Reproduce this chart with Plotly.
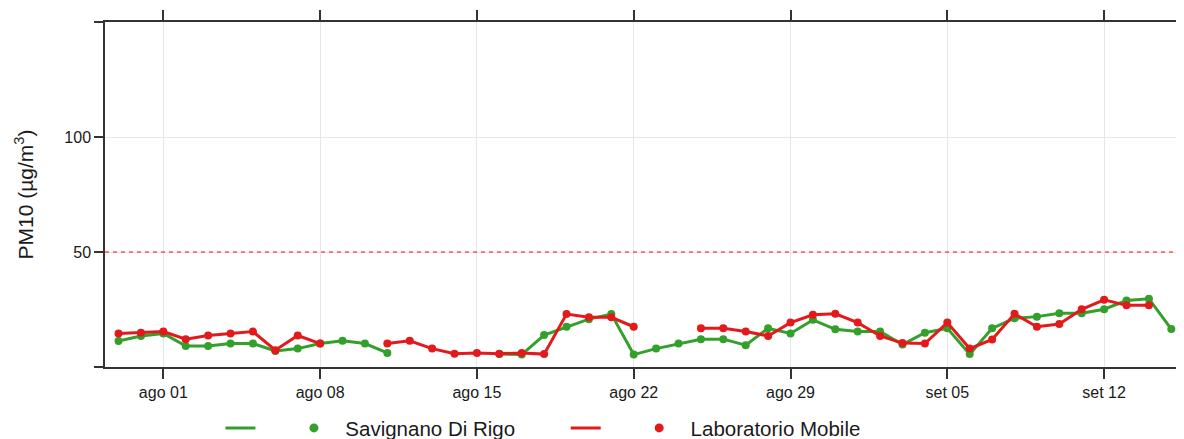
import pandas as pd
import plotly.graph_objects as go

# ---- data ----
dates = pd.date_range("2023-07-30", "2023-09-15", freq="D")

savignano = [11.3, 13.5, 14.6, 9.1, 9.1, 10.2, 10.2, 7.0, 8.0, 10.2,
             11.4, 10.2, 6.1, None, None, None, None, 5.6, 5.4, 13.9,
             17.5, 20.8, 23.0, 5.4, 8.0, 10.2, 12.1, 12.1, 9.5, 16.8,
             14.6, 20.5, 16.4, 15.4, 15.4, 9.8, 14.9, 16.8, 5.6, 16.8,
             21.2, 21.9, 23.4, 23.4, 25.1, 28.9, 29.7, 16.5]

laboratorio = [14.6, 14.9, 15.4, 12.1, 13.7, 14.6, 15.4, 7.3, 13.7, 10.2,
               None, None, 10.2, 11.4, 8.0, 5.8, 6.1, 5.8, 6.1, 5.6,
               23.0, 21.6, 21.6, 17.5, None, None, 16.8, 16.8, 15.4, 13.5,
               19.3, 22.7, 23.1, 19.3, 13.5, 10.4, 10.2, 19.3, 8.0, 12.0,
               23.1, 17.5, 18.7, 25.1, 29.2, 26.8, 26.8, None]

limit_value = 50

x_tick_dates = ["2023-08-01", "2023-08-08", "2023-08-15", "2023-08-22",
                "2023-08-29", "2023-09-05", "2023-09-12"]
x_tick_labels = ["ago 01", "ago 08", "ago 15", "ago 22", "ago 29", "set 05", "set 12"]
y_tick_vals = [0, 50, 100, 150]
y_tick_labels = ["", "50", "100", ""]

series_names = ["Savignano Di Rigo", "Laboratorio Mobile"]
series_colors = ["#33a02c", "#e31a1c"]

# ---- figure ----
fig = go.Figure()

for vals, name, col in zip([savignano, laboratorio], series_names, series_colors):
    fig.add_trace(go.Scatter(
        x=dates, y=vals, mode="lines+markers", name=name,
        line=dict(color=col, width=3),
        marker=dict(color=col, size=8),
        connectgaps=False, showlegend=False,
    ))

NB = "\u00a0"
pads_line = [NB * 5, NB * 5]
pads_text = [NB * 8, ""]
for name, col, pl, pt in zip(series_names, series_colors, pads_line, pads_text):
    fig.add_trace(go.Scatter(x=[None], y=[None], mode="lines", name=pl,
                             line=dict(color=col, width=3), hoverinfo="skip"))
    fig.add_trace(go.Scatter(x=[None], y=[None], mode="markers", name=NB * 2 + name + pt,
                             marker=dict(color=col, size=9), hoverinfo="skip"))

fig.add_hline(y=limit_value, line=dict(color="#ff0000", width=1, dash="4px,4px"))

font_family = "Liberation Sans, Arial, sans-serif"
axis_color = "#333333"

# the page body adds an 8px offset, so the figure is 8px smaller than the window
fig.update_layout(
    width=1176, height=431,
    margin=dict(l=97, r=0, t=14, b=72, autoexpand=False),
    paper_bgcolor="white", plot_bgcolor="white",
    font=dict(family=font_family, color="#1a1a1a"),
    showlegend=True,
    legend=dict(orientation="h", x=0.107, xanchor="left", y=-0.177, yanchor="middle",
                font=dict(size=20.5, color="#1a1a1a"), bgcolor="rgba(0,0,0,0)",
                itemclick=False, itemdoubleclick=False),
    xaxis=dict(
        range=["2023-07-29 09:30", "2023-09-15 13:36"],
        tickvals=x_tick_dates, ticktext=x_tick_labels,
        tickfont=dict(size=16, color="#1a1a1a"),
        ticks="outside", ticklen=10, tickwidth=1.5, tickcolor=axis_color,
        showline=True, linecolor=axis_color, linewidth=1.5, mirror="ticks",
        showgrid=True, gridcolor="#e6e6e6", gridwidth=1,
        zeroline=False, automargin=False,
    ),
    yaxis=dict(
        range=[0, 150],
        tickvals=y_tick_vals, ticktext=y_tick_labels,
        tickfont=dict(size=16, color="#1a1a1a"),
        ticks="outside", ticklen=9, tickwidth=1.5, tickcolor=axis_color,
        showline=True, linecolor=axis_color, linewidth=1.5,
        showgrid=True, gridcolor="#e6e6e6", gridwidth=1,
        zeroline=False, automargin=False,
        title=dict(text="PM10 (µg/m<sup>3</sup>)", font=dict(size=21, color="#1a1a1a"),
                   standoff=25),
    ),
)

fig.write_html("out.html")
